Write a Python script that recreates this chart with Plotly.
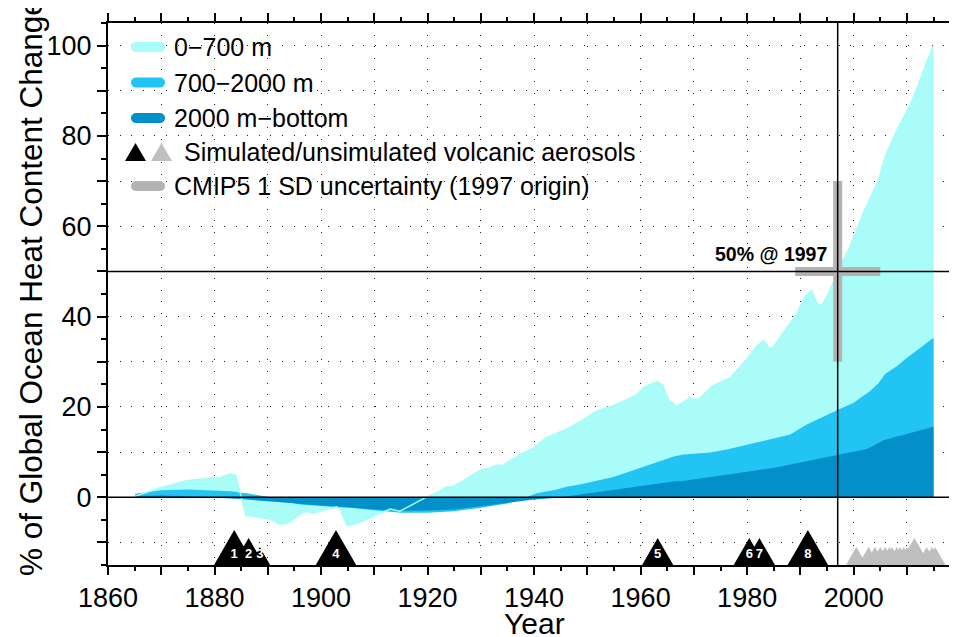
import numpy as np
import plotly.graph_objects as go

# ---------------- data ----------------
years_total = [1865.1, 1869.8, 1872.0, 1874.1, 1876.0, 1878.5, 1881.0, 1882.9, 1884.0, 1885.9,
               1887.9, 1890.4, 1892.3, 1893.6, 1894.8, 1896.4, 1897.3, 1898.6, 1899.8, 1901.7,
               1902.9, 1903.6, 1904.9, 1906.7, 1908.6, 1910.5, 1913.0, 1914.8, 1917.3, 1920.2,
               1922.3, 1923.3, 1924.5, 1926.1, 1928.0, 1929.9, 1931.7, 1933.0, 1934.2, 1936.1,
               1937.4, 1939.9, 1942.1, 1944.3, 1946.8, 1949.3, 1951.1, 1952.4, 1954.9, 1957.4,
               1959.3, 1960.5, 1963.0, 1964.2, 1965.2, 1966.8, 1969.0, 1970.9, 1973.4, 1974.9,
               1976.8, 1979.9, 1981.8, 1983.1, 1984.2, 1984.9, 1987.5, 1989.4, 1990.9, 1992.1,
               1993.1, 1994.0, 1995.3, 1996.5, 1997.0, 1997.8, 1999.3, 2001.8, 2004.7, 2005.9,
               2008.1, 2010.6, 2011.9, 2013.4, 2015.0]
total_0_bottom = [0.2, 2.1, 2.8, 3.5, 3.9, 4.1, 4.3, 5.2, 4.8, -4.0,
                  -4.3, -4.8, -6.0, -5.8, -4.9, -3.5, -3.1, -3.6, -3.1, -2.4,
                  -2.1, -2.7, -6.3, -5.8, -4.9, -3.8, -2.6, -3.1, -1.6, 0.3,
                  1.3, 2.2, 2.3, 3.2, 4.7, 6.0, 6.5, 7.1, 7.1, 8.5,
                  9.5, 10.9, 13.1, 14.2, 15.5, 17.2, 18.7, 19.4, 20.3, 21.6,
                  22.7, 24.3, 25.6, 24.8, 21.6, 20.1, 21.8, 21.7, 24.6, 25.4,
                  26.4, 30.5, 33.4, 34.7, 33.0, 33.3, 37.8, 40.8, 44.5, 45.8,
                  42.9, 42.4, 45.2, 48.5, 50.0, 51.9, 55.5, 62.9, 70.3, 75.4,
                  81.3, 86.9, 90.6, 95.4, 100.0]

years_mid = [1865.1, 1870, 1875, 1880, 1883, 1886, 1888, 1890, 1893, 1896,
             1902, 1906, 1910, 1915, 1920, 1925, 1930, 1935, 1938, 1940.5,
             1944.3, 1946.1, 1948.6, 1951.1, 1954.9, 1957.4, 1961.2, 1963.7, 1966.2, 1968.0,
             1971.2, 1973.1, 1976.2, 1981.2, 1984.9, 1988.1, 1991.2, 1995.0, 1997.5, 2000.0,
             2003.1, 2004.7, 2005.9, 2008.1, 2009.9, 2012.4, 2015.0]
mid_700_bottom = [0.8, 1.55, 1.7, 1.55, 1.35, 0.9, 0.5, 0.1, -0.8, -1.6,
                  -2.1, -2.4, -2.9, -3.45, -3.45, -3.1, -2.3, -1.4, -0.3, 0.9,
                  1.7, 2.3, 2.8, 3.5, 4.5, 5.5, 7.0, 8.1, 9.0, 9.45,
                  9.8, 9.9, 10.55, 12.0, 13.1, 13.9, 16.1, 18.3, 19.6, 20.9,
                  23.5, 25.3, 27.3, 29.0, 30.8, 33.0, 35.3]

years_deep = [1865.1, 1870, 1875, 1880, 1885, 1890, 1895, 1900, 1905, 1910,
              1915, 1920, 1925, 1930, 1935, 1940, 1944.3, 1948.6, 1954.9, 1961.2,
              1966.2, 1968.0, 1972.4, 1978.7, 1984.9, 1991.2, 1997.5, 2002.5, 2005.6, 2009.9,
              2015.0]
deep_2000_bottom = [0.3, 0.4, 0.2, -0.1, -0.4, -0.9, -1.4, -1.8, -2.2, -2.7,
                    -3.0, -2.95, -2.7, -2.0, -1.2, -0.5, -0.1, 0.6, 1.7, 2.65,
                    3.5, 3.6, 4.3, 5.4, 6.5, 8.0, 9.45, 10.7, 12.6, 13.9,
                    15.6]

volc_sim_years = [1883.7, 1886.4, 1888.5, 1902.8, 1963.2, 1980.4, 1982.3, 1991.4]
volc_sim_class = [3, 2, 1, 3, 2, 2, 2, 3]
volc_sim_labels = ["1", "2", "3", "4", "5", "6", "7", "8"]
volc_unsim_years = [2000.5, 2002.8, 2004.0, 2005.0, 2005.9, 2006.7, 2007.2, 2008.1,
                    2008.7, 2009.4, 2010.0, 2011.4, 2013.7, 2014.7, 2015.3]
volc_unsim_class = [1, 1, 1, 1, 1, 1, 1, 1, 1, 1, 1, 2, 1, 1, 1]

cmip_year = 1997
cmip_center = 50
cmip_sd_pct = 20
cmip_sd_years = 8

x_tickvals = list(range(1860, 2021, 10))
x_ticktext = ["1860", "", "1880", "", "1900", "", "1920", "", "1940", "", "1960", "",
              "1980", "", "2000", "", "2020"]
y_tickvals = list(range(-10, 101, 10))
y_ticktext = ["", "0", "", "20", "", "40", "", "60", "", "80", "", "100"]

legend_labels = ["0\u2212700 m", "700\u22122000 m", "2000 m\u2212bottom",
                 "Simulated/unsimulated volcanic aerosols", "CMIP5 1 SD uncertainty (1997 origin)"]

# ---------------- style ----------------
C_LIGHT = "#a9fcf7"
C_MID = "#21c4f3"
C_DEEP = "#0390c8"
C_GREY = "#b3b3b3"
C_GREY_TRI = "#bfbfbf"
FONT = "Liberation Sans, Arial, Helvetica, sans-serif"

OFF = 8                      # page body margin
W, H = 957 - OFF, 637 - OFF
ML, MR, MT, MB = 100, 0, 15, 72
X0, X1 = 1860, 2019.4
Y0, Y1 = -15, 105
PW, PH = W - ML - MR, H - MT - MB
PX_PER_YR = PW / (X1 - X0)
PX_PER_UNIT = PH / (Y1 - Y0)
TRI_H = {1: 18, 2: 27, 3: 35}


def px_x(px):
    """screen pixel -> paper x"""
    return (px - OFF - ML) / PW


def px_y(py):
    """screen pixel -> paper y"""
    return (H - MB - (py - OFF)) / PH


def triangles(years, classes):
    xs, ys = [], []
    for yr, c in zip(years, classes):
        h = TRI_H[c]
        hw = h / np.sqrt(3) / PX_PER_YR
        hy = h / PX_PER_UNIT
        xs += [yr - hw, yr, yr + hw, yr - hw, None]
        ys += [Y0, Y0 + hy, Y0, Y0, None]
    return xs, ys


fig = go.Figure()

for xs, ys, col in [(years_total, total_0_bottom, C_LIGHT),
                    (years_mid, mid_700_bottom, C_MID),
                    (years_deep, deep_2000_bottom, C_DEEP)]:
    fig.add_trace(go.Scatter(x=xs, y=ys, mode="lines", fill="tozeroy", fillcolor=col,
                             line=dict(width=0, color=col), hoverinfo="skip", showlegend=False))

fig.add_trace(go.Scatter(x=years_total, y=total_0_bottom, mode="lines",
                         line=dict(width=1.5, color=C_LIGHT), hoverinfo="skip", showlegend=False))

# CMIP5 uncertainty cross
fig.add_trace(go.Scatter(x=[cmip_year], y=[cmip_center], mode="markers",
                         marker=dict(size=1, color=C_GREY),
                         error_y=dict(type="data", array=[cmip_sd_pct], thickness=9, width=0, color=C_GREY),
                         error_x=dict(type="data", array=[cmip_sd_years], thickness=9, width=0, color=C_GREY),
                         hoverinfo="skip", showlegend=False))

# volcanic triangles
tx, ty = triangles(volc_unsim_years, volc_unsim_class)
fig.add_trace(go.Scatter(x=tx, y=ty, mode="lines", fill="toself", fillcolor=C_GREY_TRI,
                         line=dict(width=0, color=C_GREY_TRI), hoverinfo="skip", showlegend=False))
tx, ty = triangles(volc_sim_years, volc_sim_class)
fig.add_trace(go.Scatter(x=tx, y=ty, mode="lines", fill="toself", fillcolor="black",
                         line=dict(width=0, color="black"), hoverinfo="skip", showlegend=False))
fig.add_trace(go.Scatter(x=volc_sim_years, y=[Y0 + 2.25] * len(volc_sim_years), mode="text",
                         text=volc_sim_labels,
                         textfont=dict(family=FONT, size=13, color="white", weight="bold"),
                         hoverinfo="skip", showlegend=False))

# reference lines (above traces)
shapes = []
for sh in [dict(type="line", xref="paper", x0=0, x1=1, yref="y", y0=0, y1=0),
           dict(type="line", xref="paper", x0=0, x1=1, yref="y", y0=cmip_center, y1=cmip_center),
           dict(type="line", xref="x", x0=cmip_year, x1=cmip_year, yref="paper", y0=0, y1=1)]:
    sh.update(layer="above", line=dict(color="black", width=1.5))
    shapes.append(sh)


def capsule(w, r):
    k = 0.5523 * r
    a, b = r, w - r
    return (f"M{a},{r} L{b},{r} C{b + k},{r} {w},{k} {w},0 C{w},{-k} {b + k},{-r} {b},{-r} "
            f"L{a},{-r} C{a - k},{-r} 0,{-k} 0,0 C0,{k} {a - k},{r} {a},{r} Z")


rows = [47, 82.5, 118, 152, 186]
for ry, col in zip([rows[0], rows[1], rows[2], rows[4]], [C_LIGHT, C_MID, C_DEEP, C_GREY]):
    shapes.append(dict(type="path", xref="paper", yref="paper", xsizemode="pixel", ysizemode="pixel",
                       xanchor=px_x(131), yanchor=px_y(ry), path=capsule(34, 5),
                       fillcolor=col, line=dict(width=0), layer="above"))
for x_left, col in [(125, "black"), (151, C_GREY_TRI)]:
    shapes.append(dict(type="path", xref="paper", yref="paper", xsizemode="pixel", ysizemode="pixel",
                       xanchor=px_x(x_left), yanchor=px_y(rows[3] + 9),
                       path="M0,0 L10.5,18 L21,0 Z", fillcolor=col, line=dict(width=0), layer="above"))

annotations = []
for i, (lab, ry) in enumerate(zip(legend_labels, rows)):
    annotations.append(dict(text=lab, xref="paper", yref="paper", x=px_x(182 if i == 3 else 172),
                            y=px_y(ry), xanchor="left", yanchor="middle", showarrow=False,
                            font=dict(family=FONT, size=25, color="black")))

annotations.append(dict(text=f"{cmip_center}% @ {cmip_year}", xref="x", yref="y", x=1995.4, y=53.9,
                        xanchor="right", yanchor="middle", showarrow=False,
                        font=dict(family=FONT, size=19.5, color="black", weight="bold")))
annotations.append(dict(text="% of Global Ocean Heat Content Change", xref="paper", yref="paper",
                        x=px_x(31), y=px_y(287), xanchor="center", yanchor="middle", textangle=-90,
                        showarrow=False, font=dict(family=FONT, size=31.5, color="black")))
annotations.append(dict(text="Year", xref="paper", yref="paper", x=px_x(534), y=px_y(623),
                        xanchor="center", yanchor="middle", showarrow=False,
                        font=dict(family=FONT, size=30, color="black")))

grid = dict(showgrid=True, gridcolor="#222222", gridwidth=1, griddash="1px,10.6px")

fig.update_layout(
    width=W, height=H, margin=dict(l=ML, r=MR, t=MT, b=MB, pad=0),
    paper_bgcolor="white", plot_bgcolor="white", showlegend=False,
    font=dict(family=FONT, color="black"),
    shapes=shapes, annotations=annotations,
    xaxis=dict(range=[X0, X1], tickmode="array", tickvals=x_tickvals, ticktext=x_ticktext,
               ticks="outside", ticklen=8, tickwidth=1.5, tickcolor="black",
               showline=True, linewidth=2, linecolor="black", mirror="ticks", zeroline=False,
               tickfont=dict(family=FONT, size=27, color="black"),
               minor=dict(dtick=5, tick0=1860, ticks="outside", ticklen=4, tickwidth=1.5,
                          tickcolor="black", showgrid=False),
               **grid),
    yaxis=dict(range=[Y0, Y1], tickmode="array", tickvals=y_tickvals, ticktext=y_ticktext,
               ticks="outside", ticklen=9, tickwidth=1.5, tickcolor="black",
               showline=True, linewidth=2, linecolor="black", mirror=False, zeroline=False,
               tickfont=dict(family=FONT, size=27, color="black"),
               minor=dict(dtick=5, tick0=0, ticks="outside", ticklen=5, tickwidth=1.5,
                          tickcolor="black", showgrid=False),
               **grid),
)

fig.write_html("out.html")
